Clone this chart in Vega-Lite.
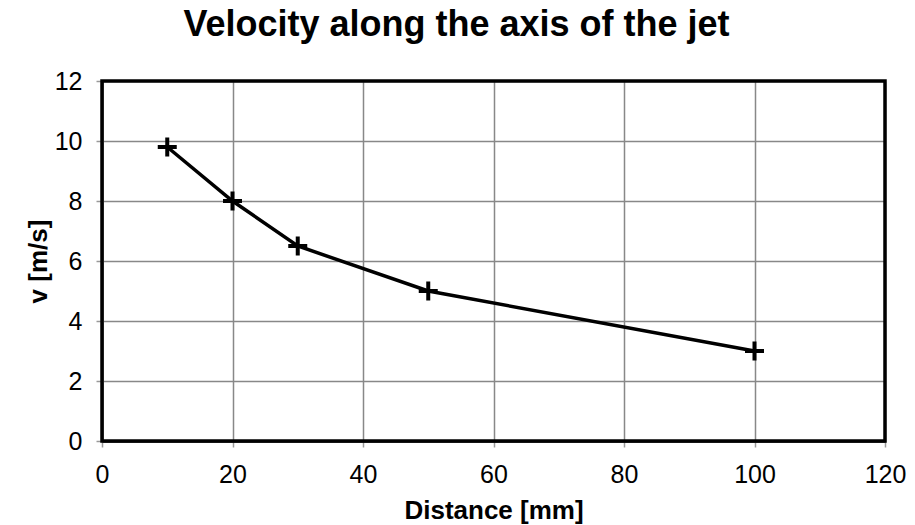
{
  "$schema": "https://vega.github.io/schema/vega-lite/v6.json",
  "autosize": "none",
  "width": 783,
  "height": 360,
  "padding": {"left": 102, "top": 81, "right": 30, "bottom": 84},
  "background": "white",
  "title": {
    "text": "Velocity along the axis of the jet",
    "font": "Liberation Sans",
    "fontSize": 36,
    "fontWeight": "bold",
    "color": "black",
    "anchor": "middle",
    "dx": -37,
    "offset": 25
  },
  "config": {
    "view": {"stroke": null},
    "axis": {
      "labelFont": "Liberation Sans",
      "labelFontSize": 25,
      "labelColor": "black",
      "titleFont": "Liberation Sans",
      "titleFontSize": 26,
      "titleFontWeight": "bold",
      "titleColor": "black",
      "grid": true,
      "gridColor": "#888888",
      "gridWidth": 1.5,
      "gridOpacity": 1,
      "domainColor": "#777777",
      "domainWidth": 3,
      "tickColor": "#999999",
      "tickSize": 6,
      "tickWidth": 1.5,
      "labelFlush": false
    }
  },
  "layer": [
    {
      "data": {
        "values": [
          {"distance": 10, "v": 9.8},
          {"distance": 20, "v": 8},
          {"distance": 30, "v": 6.5},
          {"distance": 50, "v": 5},
          {"distance": 100, "v": 3}
        ]
      },
      "layer": [
        {
          "mark": {"type": "line", "color": "black", "strokeWidth": 3.5},
          "encoding": {
            "x": {
              "field": "distance",
              "type": "quantitative",
              "scale": {"domain": [0, 120], "nice": false},
              "axis": {"values": [0, 20, 40, 60, 80, 100, 120], "title": "Distance [mm]", "labelPadding": 15, "titlePadding": 10, "domainColor": "#222222", "domainWidth": 2.5}
            },
            "y": {
              "field": "v",
              "type": "quantitative",
              "scale": {"domain": [0, 12], "nice": false},
              "axis": {"values": [0, 2, 4, 6, 8, 10, 12], "title": "v [m/s]", "labelPadding": 14, "titlePadding": 3}
            }
          }
        },
        {
          "mark": {"type": "point", "shape": "M-1,0L1,0M0,-1L0,1", "filled": false, "color": "black", "strokeWidth": 4, "size": 361, "opacity": 1},
          "encoding": {
            "x": {"field": "distance", "type": "quantitative"},
            "y": {"field": "v", "type": "quantitative"}
          }
        }
      ]
    },
    {
      "data": {"values": [{"frame": "plot area"}]},
      "mark": {"type": "rect", "filled": false, "fill": "transparent", "stroke": "black", "strokeWidth": 3.5},
      "encoding": {
        "x": {"datum": 0, "type": "quantitative"},
        "x2": {"datum": 120},
        "y": {"datum": 0, "type": "quantitative"},
        "y2": {"datum": 12}
      }
    }
  ]
}
